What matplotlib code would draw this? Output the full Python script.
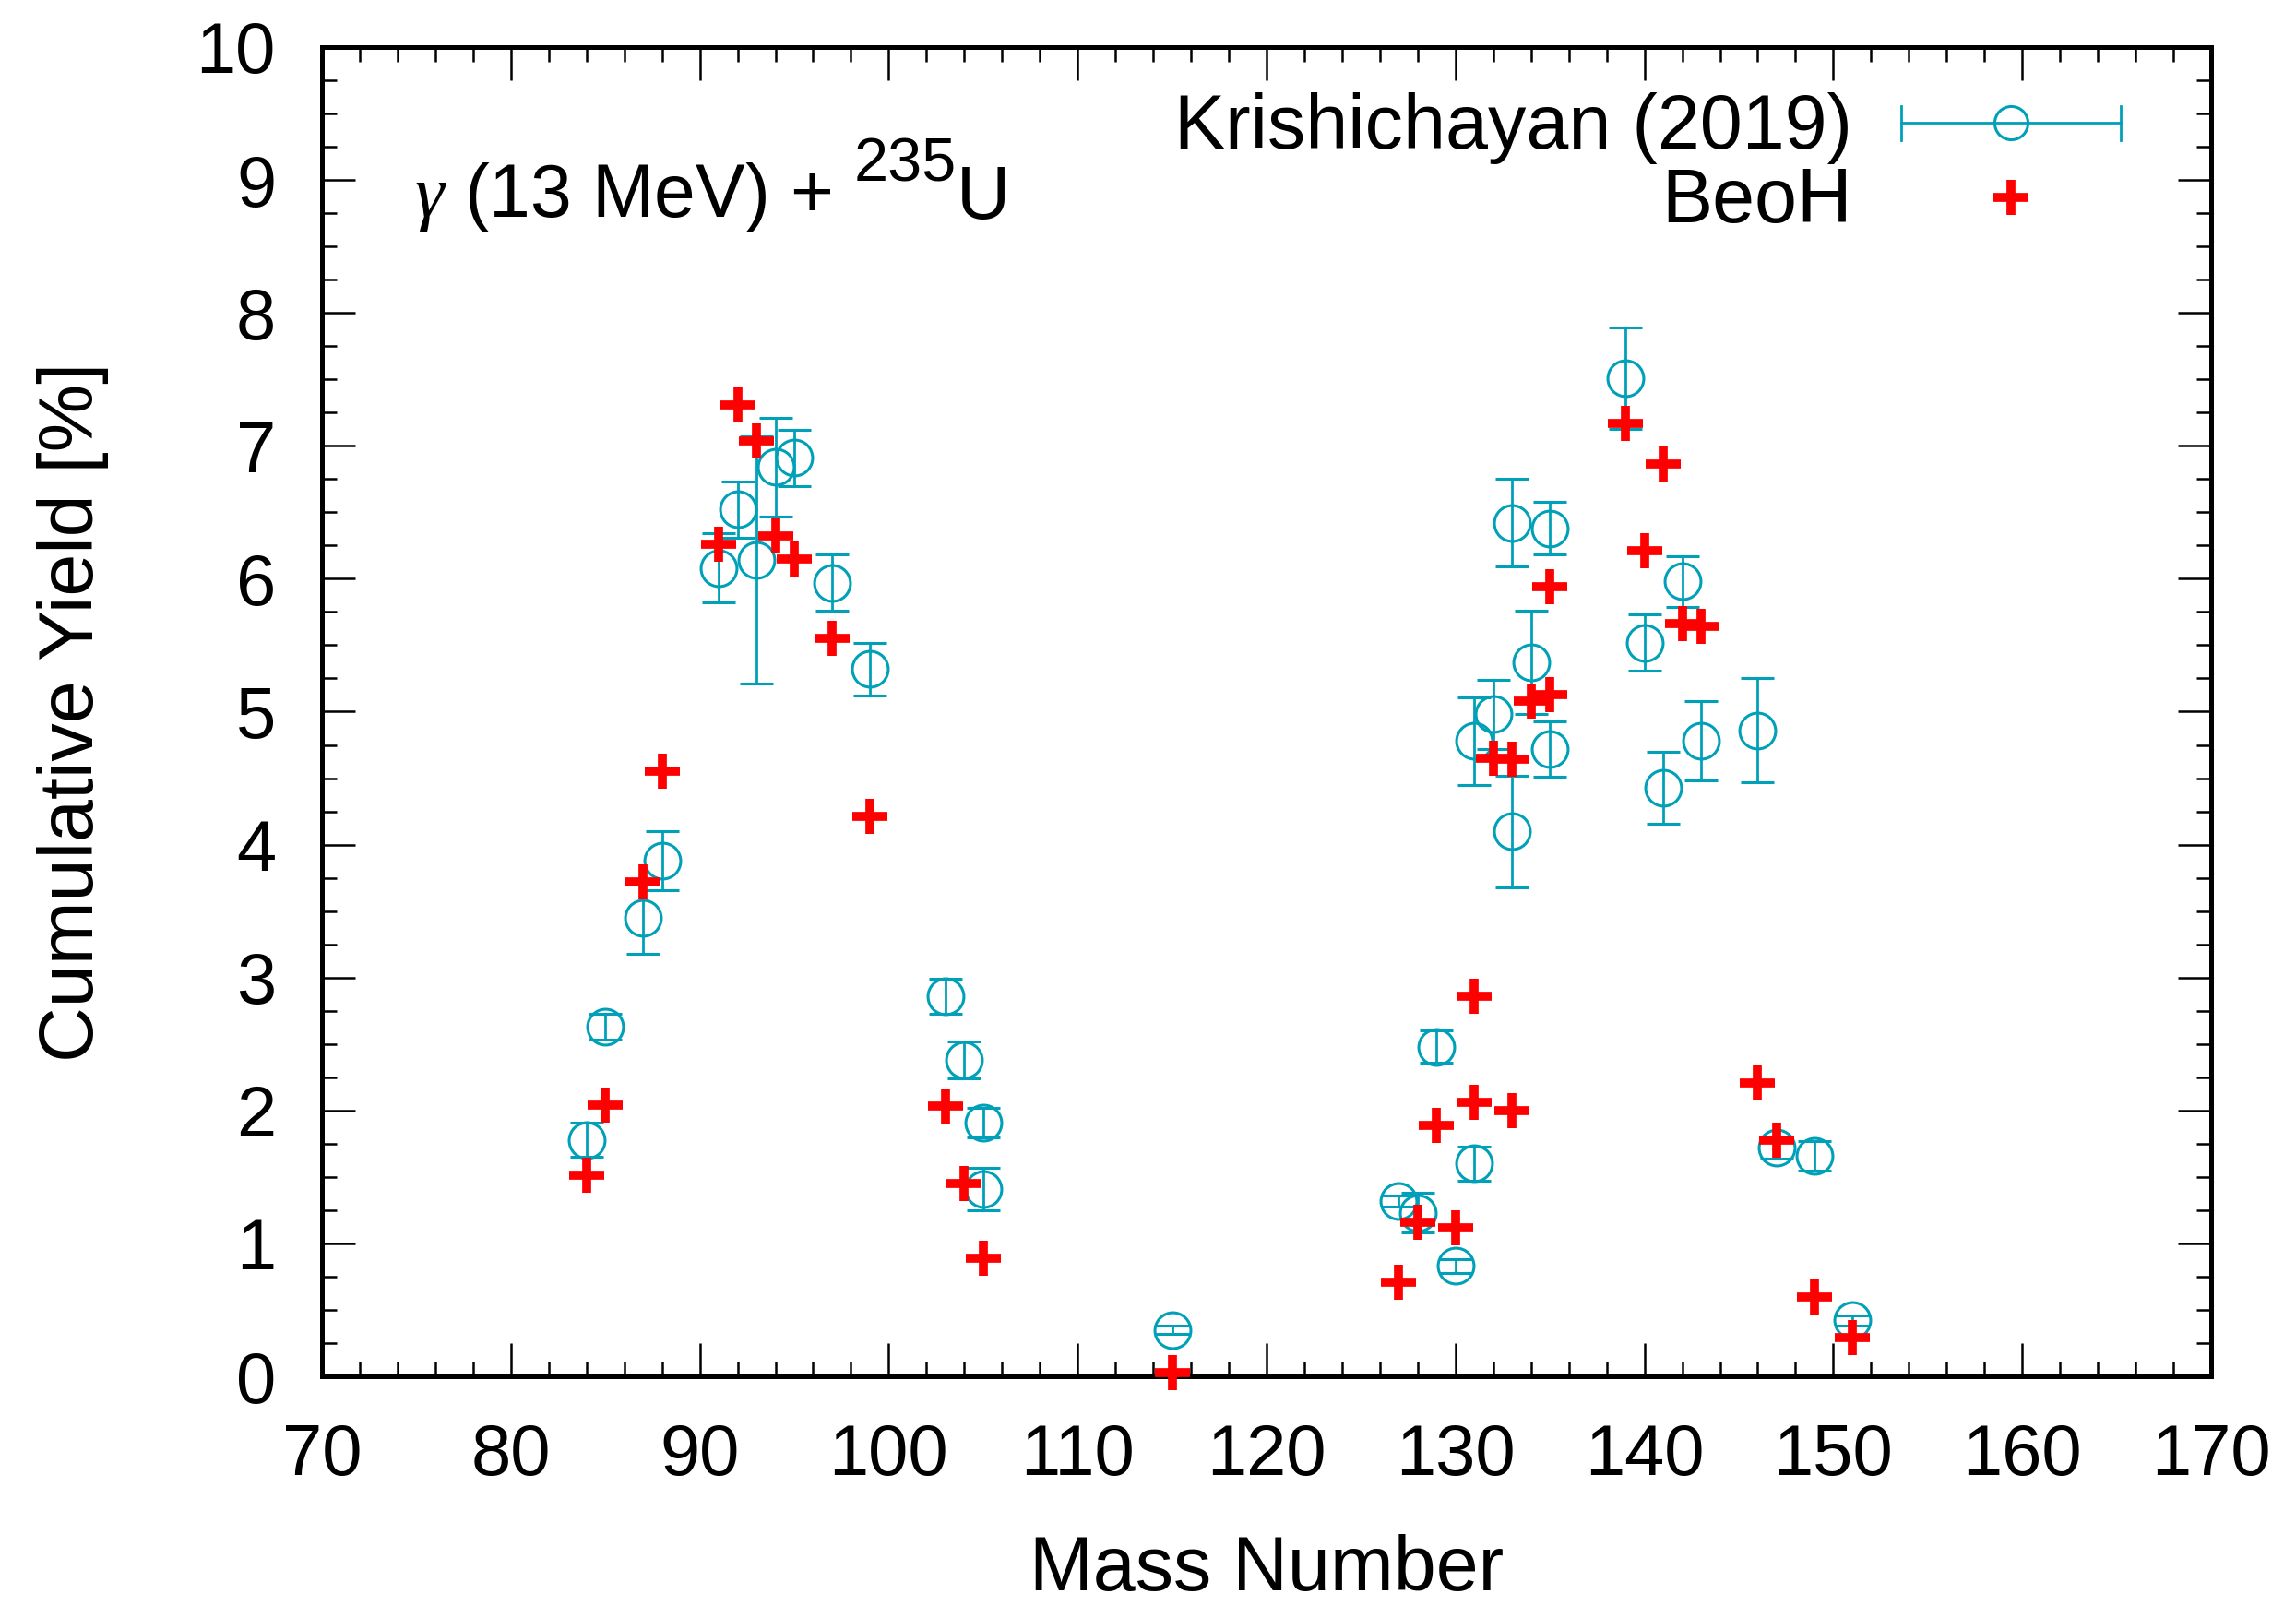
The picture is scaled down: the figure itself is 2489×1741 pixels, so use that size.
import numpy as np
import matplotlib.pyplot as plt
from matplotlib.ticker import MultipleLocator

plt.rcParams['font.family'] = ['Liberation Sans', 'DejaVu Sans']
plt.rcParams['mathtext.fontset'] = 'custom'
plt.rcParams['mathtext.rm'] = 'Liberation Sans'
plt.rcParams['mathtext.it'] = 'Liberation Serif:italic'
plt.rcParams['font.size'] = 56

# Krishichayan (2019) cumulative yields, gamma (13 MeV) + U-235
exp_mass = [84, 85, 87, 88, 91, 92, 93, 94, 95, 97, 99, 103, 104, 105, 105,
            115, 127, 128, 129, 130, 131, 131, 132, 133, 133, 134, 135, 135,
            139, 140, 141, 142, 143, 146, 147, 149, 151]
exp_yield = [1.78, 2.63, 3.45, 3.88, 6.08, 6.52, 6.14, 6.84, 6.91, 5.97, 5.32,
             2.86, 2.38, 1.91, 1.41, 0.35, 1.32, 1.23, 2.48, 0.83, 1.60, 4.78,
             4.98, 6.42, 4.10, 5.37, 6.38, 4.72, 7.51, 5.52, 4.43, 5.98, 4.78,
             4.86, 1.72, 1.66, 0.42]
exp_err = [0.13, 0.10, 0.275, 0.22, 0.26, 0.21, 0.93, 0.37, 0.21, 0.21, 0.20,
           0.13, 0.14, 0.11, 0.16, 0.03, 0.04, 0.15, 0.12, 0.05, 0.13, 0.33,
           0.26, 0.33, 0.42, 0.39, 0.20, 0.21, 0.38, 0.21, 0.27, 0.19, 0.30,
           0.39, 0.08, 0.11, 0.04]

# BeoH calculation
beoh_mass = [84, 85, 87, 88, 91, 92, 93, 94, 95, 97, 99, 103, 104, 105, 115,
             127, 128, 129, 130, 131, 131, 132, 133, 133, 134, 135, 135, 139,
             140, 141, 142, 143, 146, 147, 149, 151]
beoh_yield = [1.51, 2.04, 3.72, 4.55, 6.26, 7.31, 7.04, 6.32, 6.15, 5.55, 4.21,
              2.03, 1.45, 0.89, 0.03, 0.71, 1.16, 1.89, 1.12, 2.86, 2.06, 4.65,
              4.64, 2.00, 5.08, 5.13, 5.94, 7.17, 6.21, 6.86, 5.66, 5.64, 2.21,
              1.78, 0.60, 0.29]

teal = '#00a0b8'
W, H = 2489, 1741

fig = plt.figure(figsize=(W / 100, H / 100), dpi=100)
ax = fig.add_axes([349 / W, 1 - 1492 / H, 2048 / W, 1441 / H])

ax.errorbar(exp_mass, exp_yield, yerr=exp_err, fmt='o', mfc='none', mec=teal,
            ms=28, mew=2.2, ecolor=teal, elinewidth=2, capsize=13, capthick=2,
            zorder=3)
ax.plot(beoh_mass, beoh_yield, '+', color='red', ms=27, mew=7, zorder=4,
        clip_on=False)

ax.set_xlim(70, 170)
ax.set_ylim(0, 10)
ax.set_xticks(np.arange(70, 171, 10))
ax.set_yticks(np.arange(0, 11, 1))
ax.xaxis.set_minor_locator(MultipleLocator(2))
ax.yaxis.set_minor_locator(MultipleLocator(0.25))
ax.tick_params(which='both', direction='in', top=True, right=True, width=1.8)
ax.tick_params(which='major', length=26)
ax.tick_params(which='minor', length=11.5)
ax.tick_params(axis='x', pad=36)
ax.tick_params(axis='y', pad=36)
for s in ax.spines.values():
    s.set_linewidth(3.6)

ax.set_xlabel('Mass Number', fontsize=59.5)
ax.set_ylabel('Cumulative Yield [%]', fontsize=59.5)
ax.xaxis.set_label_coords(0.5, -0.1185)
ax.yaxis.set_label_coords(-0.113, 0.5)

# reaction label: gamma (13 MeV) + 235U, superscript set as its own text
t1 = ax.text(0.049, 0.872, r'$\gamma$ (13 MeV) +', fontsize=58,
             transform=ax.transAxes, va='baseline', ha='left')
t2 = ax.annotate('235', xy=(1, 0), xycoords=t1, xytext=(17, 32),
                 textcoords='offset points', fontsize=48, va='bottom',
                 ha='left')
ax.annotate('U', xy=(1, 0), xycoords=(t2, t1), xytext=(0, 0),
            textcoords='offset points', fontsize=58, va='bottom', ha='left')

# key, drawn gnuplot-style with the text right-aligned before the sample
tr = ax.transAxes
x0, x1, xc = 0.836, 0.952, 0.894
y_exp, y_beoh = 0.943, 0.887
ax.text(0.810, 0.924, 'Krishichayan (2019)', fontsize=59.5, transform=tr,
        ha='right', va='baseline')
ax.text(0.810, 0.868, 'BeoH', fontsize=59.5, transform=tr, ha='right',
        va='baseline')
ax.plot([x0, x1], [y_exp, y_exp], color=teal, lw=2, transform=tr,
        clip_on=False)
for xe in (x0, x1):
    ax.plot([xe, xe], [y_exp - 0.0128, y_exp + 0.0128], color=teal, lw=2,
            transform=tr, clip_on=False)
ax.plot([xc], [y_exp], 'o', mfc='none', mec=teal, ms=26, mew=2.2,
        transform=tr, clip_on=False)
ax.plot([xc], [y_beoh], '+', color='red', ms=27, mew=7, transform=tr,
        clip_on=False)

fig.savefig('out.png', dpi=100, facecolor='white')
